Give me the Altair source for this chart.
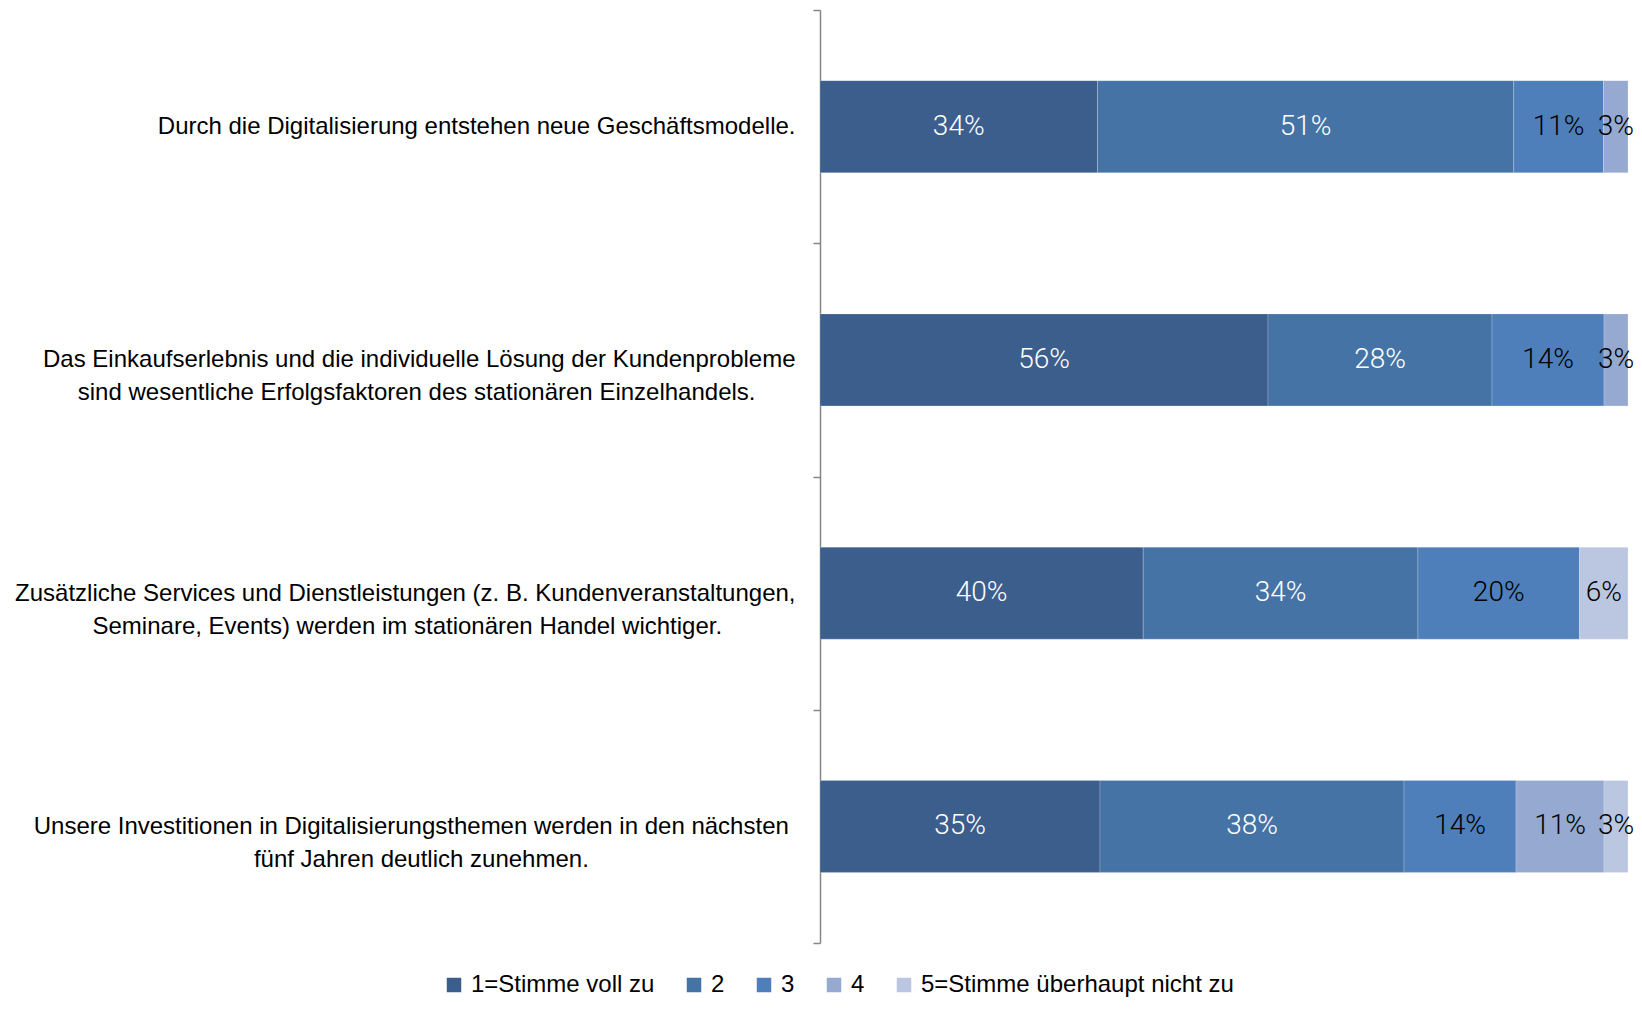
import altair as alt
import pandas as pd

NB = "\u00a0"
ZW = "\u200b"
statements = [
    "Durch die Digitalisierung entstehen neue Geschäftsmodelle.",
    "Das Einkaufserlebnis und die individuelle Lösung der Kundenprobleme|sind wesentliche Erfolgsfaktoren des stationären Einzelhandels." + NB * 6 + ZW,
    "Zusätzliche Services und Dienstleistungen (z. B. Kundenveranstaltungen,|Seminare, Events) werden im stationären Handel wichtiger." + NB * 11 + ZW,
    "Unsere Investitionen in Digitalisierungsthemen werden in den nächsten" + NB + ZW + "|fünf Jahren deutlich zunehmen." + NB * 31 + ZW,
]
levels = ["1=Stimme voll zu", "2", "3", "4", "5=Stimme überhaupt nicht zu"]
colors = ["#3b5e8c", "#4673a6", "#4e7fbb", "#95a9d1", "#bbc7e0"]
v1 = [34, 56, 40, 35]
v2 = [51, 28, 34, 38]
v3 = [11, 14, 20, 14]
v4 = [3, 3, 0, 11]
v5 = [0, 0, 6, 3]

rows = []
for i, s in enumerate(statements):
    for j, vals in enumerate([v1, v2, v3, v4, v5]):
        if vals[i] > 0:
            rows.append({"statement": s, "level": levels[j], "order": j, "value": vals[i]})
df = pd.DataFrame(rows)

LABEL_FONT = "Liberation Sans"

base = alt.Chart(df).transform_stack(
    stack="value", groupby=["statement"], sort=[alt.SortField("order")],
    as_=["x0", "x1"], offset="normalize"
).transform_calculate(
    mid="(datum.x0 + datum.x1) / 2",
    lab="datum.value + '%'"
)

yscale = alt.Scale(paddingInner=0, paddingOuter=0)

bars = base.mark_bar(height=92, stroke="#ffffff", strokeWidth=0.6, strokeOpacity=0.35).encode(
    y=alt.Y(
        "statement:N", sort=statements, scale=yscale,
        axis=alt.Axis(
            title=None, labelExpr="split(datum.label, '|')",
            labelFont=LABEL_FONT, labelFontSize=24, labelColor="#000000",
            labelAlign="right", labelPadding=18, labelLineHeight=33, labelLimit=0,
            tickBand="extent", tickSize=7, tickColor="#868686", tickWidth=1.5,
            domainColor="#868686", domainWidth=1.5,
        ),
    ),
    x=alt.X("x0:Q", scale=alt.Scale(domain=[0, 1]), axis=None),
    x2="x1:Q",
    color=alt.Color(
        "level:N", scale=alt.Scale(domain=levels, range=colors),
        legend=alt.Legend(
            title=None, orient="none", direction="horizontal", legendX=-378, legendY=963,
            symbolType="square", symbolSize=210, symbolStrokeWidth=0,
            labelFont=LABEL_FONT, labelFontSize=24, labelColor="#000000",
            columnPadding=27, labelOffset=5, labelLimit=0,
        ),
    ),
)

texts = base.mark_text(font="Roboto", fontWeight=300, fontSize=28, baseline="middle").encode(
    y=alt.Y("statement:N", sort=statements),
    x=alt.X("mid:Q", axis=None),
    text="lab:N",
    color=alt.condition("datum.order <= 1", alt.value("#ffffff"), alt.value("#000000")),
)

chart = (bars + texts).properties(
    width=808, height=933,
    autosize=alt.AutoSizeParams(type="none"),
    padding={"top": 2, "left": 812, "right": 6, "bottom": 59},
).configure_view(stroke=None)

chart.save("out.html", embed_options={"renderer": "svg", "actions": False})
